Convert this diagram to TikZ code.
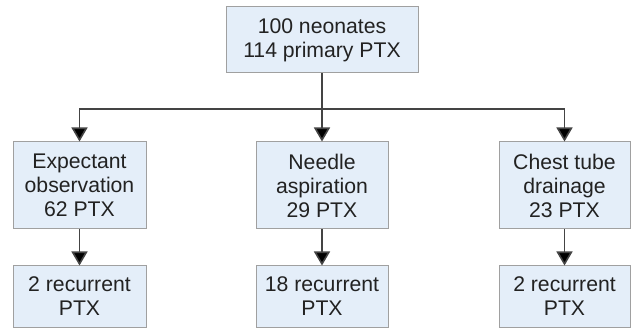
\documentclass[tikz,border=0pt]{standalone}
\usepackage{fontspec}
\setmainfont{Liberation Sans}
\usetikzlibrary{arrows.meta}
\definecolor{boxfill}{HTML}{E4EEF9}
\definecolor{boxline}{HTML}{A0A0A0}
\definecolor{linec}{HTML}{444444}
\definecolor{txt}{HTML}{222222}
\tikzset{
  box/.style={draw=boxline, line width=1pt, fill=boxfill, align=center,
    text=txt, inner sep=0pt, font=\fontsize{21.2}{24}\selectfont},
  conn/.style={draw=linec, line width=1.6pt},
  arr/.style={conn, -{Triangle[width=16pt,length=14pt,fill=black]}}
}
\begin{document}
\begin{tikzpicture}[x=1pt,y=-1pt]
\useasboundingbox (0,0) rectangle (631,328);
\node[box, minimum width=192pt, minimum height=66pt] (top) at (322,40) {100 neonates\\114 primary PTX};
\node[box, minimum width=133pt, minimum height=87pt] (b1) at (79.5,185.5) {Expectant\\observation\\62 PTX};
\node[box, minimum width=132pt, minimum height=87pt] (b2) at (322,185.5) {Needle\\aspiration\\29 PTX};
\node[box, minimum width=131pt, minimum height=87pt] (b3) at (564.5,185.5) {Chest tube\\drainage\\23 PTX};
\node[box, minimum width=133pt, minimum height=61pt] (c1) at (79.5,296.5) {2 recurrent\\PTX};
\node[box, minimum width=132pt, minimum height=61pt] (c2) at (322,296.5) {18 recurrent\\PTX};
\node[box, minimum width=131pt, minimum height=61pt] (c3) at (564.5,296.5) {2 recurrent\\PTX};
\coordinate (j) at (322,109);
\draw[arr] (top) -- (b2);
\draw[arr] (j) -| (b1);
\draw[arr] (j) -| (b3);
\draw[arr] (b1) -- (c1);
\draw[arr] (b2) -- (c2);
\draw[arr] (b3) -- (c3);
\end{tikzpicture}
\end{document}
